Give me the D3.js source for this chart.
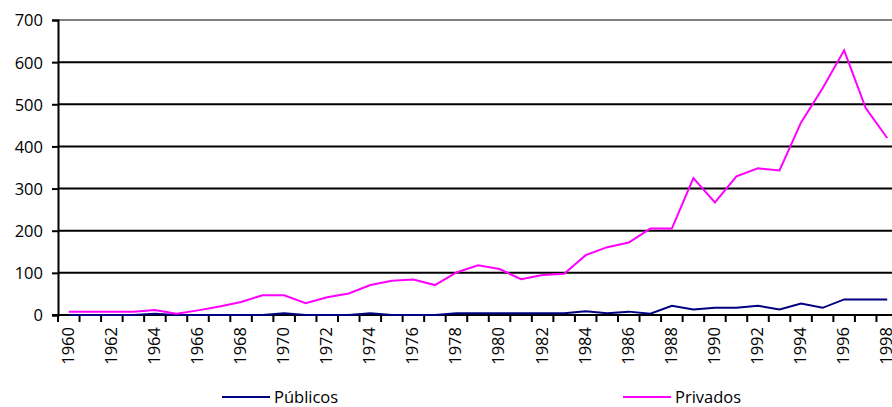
<!DOCTYPE html>
<html>
<head>
<meta charset="utf-8">
<script src="https://cdn.jsdelivr.net/npm/d3@7"></script>
<style>
  body { margin: 0; background: #fff; }
  svg { display: block; }
  .axis text { font-family: "Open Sans", sans-serif; font-size: 16.5px; fill: #000; }
  .legend text { font-family: "Open Sans", sans-serif; font-size: 16.5px; fill: #000; }
</style>
</head>
<body>
<div class="chart"></div>
<script>
// data
var years = d3.range(1960, 1999);
var publicos = [0, 0, 0, 0, 3, 0, 0, 0, 0, 0,
                4, 0, 0, 0, 4, 0, 0, 0, 4, 4,
                4, 4, 4, 4, 9, 4, 8, 3, 22, 13,
                17, 17, 22, 13, 27, 17, 37, 37, 37];
var privados = [8, 8, 8, 8, 12, 3, 11, 20, 31, 47,
                47, 28, 42, 51, 71, 81, 84, 71, 101, 118,
                109, 85, 95, 98, 142, 161, 172, 205, 205, 325,
                267, 329, 348, 343, 457, 538, 628, 491, 420];
var yTicks = [0, 100, 200, 300, 400, 500, 600, 700];
var seriesNames = ["Públicos", "Privados"];

var svgWidth = 892;
var svgHeight = 407;

var margin = { top: 20, left: 58 };
var plotRight = 898; // chart is cut off at the right edge
var plotBottom = 315;

var svg = d3.select(".chart")
  .append("svg")
  .attr("width", svgWidth)
  .attr("height", svgHeight);

var x = d3.scaleBand().domain(years).range([margin.left, plotRight]);
var y = d3.scaleLinear().domain([0, 700]).range([plotBottom, margin.top]);

// gridlines
svg.append("g")
  .selectAll("line")
  .data(yTicks.filter(function(d) { return d > 0; }))
  .enter().append("line")
  .attr("x1", margin.left)
  .attr("x2", plotRight)
  .attr("y1", function(d) { return y(d); })
  .attr("y2", function(d) { return y(d); })
  .attr("stroke", function(d) { return d === 700 ? "#808080" : "#000"; })
  .attr("stroke-width", 2);

// y axis
var yAxis = d3.axisLeft(y).tickValues(yTicks).tickSize(6).tickPadding(9);
var gy = svg.append("g")
  .attr("class", "axis")
  .attr("transform", "translate(" + margin.left + ",0)")
  .call(yAxis);
gy.select(".domain").attr("stroke", "#000").attr("stroke-width", 2);
gy.selectAll(".tick line").attr("stroke", "#000").attr("stroke-width", 2);
gy.selectAll("text").attr("dy", "0.36em");

// x axis: labels at band centers, ticks at band edges
var xAxis = d3.axisBottom(x)
  .tickValues(years.filter(function(d) { return d % 2 === 0; }))
  .tickSize(0);
var gx = svg.append("g")
  .attr("class", "axis")
  .attr("transform", "translate(0," + plotBottom + ")")
  .call(xAxis);
gx.select(".domain").remove();
gx.selectAll("text")
  .attr("transform", "rotate(-90)")
  .attr("text-anchor", "end")
  .attr("x", -12)
  .attr("y", -1)
  .attr("dy", "0.36em");

svg.append("g")
  .selectAll("line")
  .data(years.concat([1999]))
  .enter().append("line")
  .attr("x1", function(d) { return d === 1999 ? plotRight : x(d); })
  .attr("x2", function(d) { return d === 1999 ? plotRight : x(d); })
  .attr("y1", plotBottom)
  .attr("y2", plotBottom + 7)
  .attr("stroke", "#000")
  .attr("stroke-width", 2);

svg.append("line")
  .attr("x1", margin.left - 6)
  .attr("x2", plotRight)
  .attr("y1", plotBottom)
  .attr("y2", plotBottom)
  .attr("stroke", "#000")
  .attr("stroke-width", 2);

// lines
var line = d3.line()
  .x(function(d, i) { return x(years[i]) + x.bandwidth() / 2; })
  .y(function(d) { return y(d); });

svg.append("path")
  .datum(publicos)
  .attr("fill", "none")
  .attr("stroke", "#000080")
  .attr("stroke-width", 2)
  .attr("d", line);

svg.append("path")
  .datum(privados)
  .attr("fill", "none")
  .attr("stroke", "#FF00FF")
  .attr("stroke-width", 2)
  .attr("d", line);

// legend
var legendItems = [
  { name: seriesNames[0], color: "#000080", x: 222 },
  { name: seriesNames[1], color: "#FF00FF", x: 623 }
];
var legend = svg.append("g").attr("class", "legend");
var items = legend.selectAll("g")
  .data(legendItems)
  .enter().append("g")
  .attr("transform", function(d) { return "translate(" + d.x + ",397)"; });
items.append("line")
  .attr("x1", 0).attr("x2", 48)
  .attr("stroke", function(d) { return d.color; })
  .attr("stroke-width", 2);
items.append("text")
  .attr("x", 52)
  .attr("y", 0)
  .attr("dy", "0.34em")
  .text(function(d) { return d.name; });
</script>
</body>
</html>
